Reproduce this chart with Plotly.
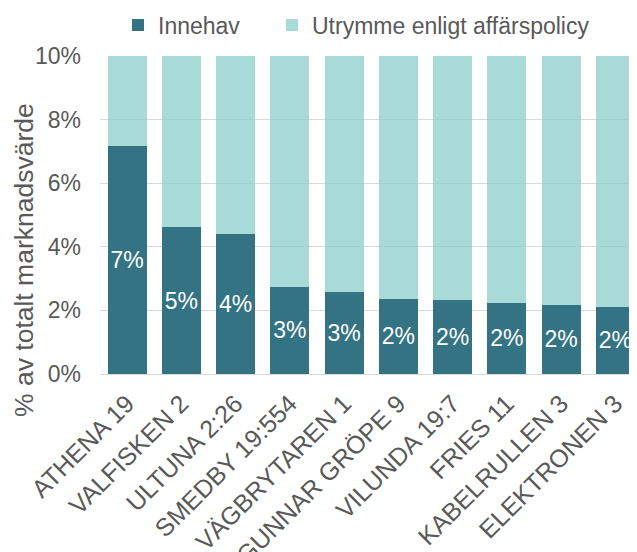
import plotly.graph_objects as go

categories = ["ATHENA 19", "VALFISKEN 2", "ULTUNA 2:26", "SMEDBY 19:554", "VÄGBRYTAREN 1",
              "GUNNAR GRÖPE 9", "VILUNDA 19:7", "FRIES 11", "KABELRULLEN 3", "ELEKTRONEN 3"]
innehav = [7.17, 4.62, 4.41, 2.74, 2.59, 2.36, 2.33, 2.24, 2.18, 2.12]
policy_limit = [10.0] * len(categories)
utrymme = [lim - v for lim, v in zip(policy_limit, innehav)]
y_ticks = [0, 2, 4, 6, 8, 10]
y_ticklabels = [f"{t}%" for t in y_ticks]

DARK = "rgb(51,115,131)"
LIGHT = "rgba(139,206,203,0.75)"
GRAY = "#595959"
FONT = "Liberation Sans, Arial, sans-serif"

# the page body adds an 8px offset; figure coordinates below compensate for it
OFF = 8
W, H = 637, 552
PL, PT, PW, PH = 100 - OFF, 56 - OFF, 537, 318

fig = go.Figure()
fig.add_trace(go.Bar(
    name="Innehav", x=categories, y=innehav, marker_color=DARK,
    marker_line_width=0, legend="legend",
    text=[f"{round(v)}%" for v in innehav], textposition="inside",
    insidetextanchor="middle", textangle=0,
    textfont=dict(color="white", size=23, family=FONT),
))
fig.add_trace(go.Bar(
    name="Utrymme enligt affärspolicy", x=categories, y=utrymme,
    marker_color=LIGHT, marker_line_width=0, hoverinfo="skip", legend="legend2",
))

legend_common = dict(orientation="h", xref="container", yref="container",
                     xanchor="left", y=1 - (25 - OFF) / H, yanchor="middle",
                     font=dict(size=23, color=GRAY, family=FONT),
                     itemwidth=30, bgcolor="rgba(0,0,0,0)")

fig.update_layout(
    barmode="stack", bargap=0.28,
    width=W, height=H,
    margin=dict(l=PL, r=W - PL - PW, t=PT, b=H - PT - PH, autoexpand=False),
    paper_bgcolor="white", plot_bgcolor="white",
    font=dict(family=FONT, color=GRAY, size=23),
    uniformtext=dict(minsize=23, mode="show"),
    legend=dict(x=(118 - OFF) / W, **legend_common),
    legend2=dict(x=(272 - OFF) / W, **legend_common),
    showlegend=True,
)
fig.update_xaxes(
    range=[-0.5, 9.4], tickangle=-45, showgrid=False, showline=False,
    tickfont=dict(size=25, color=GRAY, family=FONT), automargin=False,
    ticks="", ticklabelstandoff=9,
)
fig.update_yaxes(
    range=[0, 10], tickvals=y_ticks, ticktext=y_ticklabels,
    showgrid=True, gridcolor="#d9d9d9", gridwidth=1,
    zeroline=True, zerolinecolor="#d9d9d9", zerolinewidth=1,
    showline=False, ticks="", ticklabelstandoff=18,
    tickfont=dict(size=23, color=GRAY, family=FONT), automargin=False,
)
fig.add_annotation(
    text="% av totalt marknadsvärde", textangle=-90,
    xref="paper", yref="paper", x=(24 - 100) / PW, y=(374 - 260) / PH,
    xanchor="center", yanchor="middle", showarrow=False,
    font=dict(size=26.5, color=GRAY, family=FONT),
)

fig.write_html("out.html")
